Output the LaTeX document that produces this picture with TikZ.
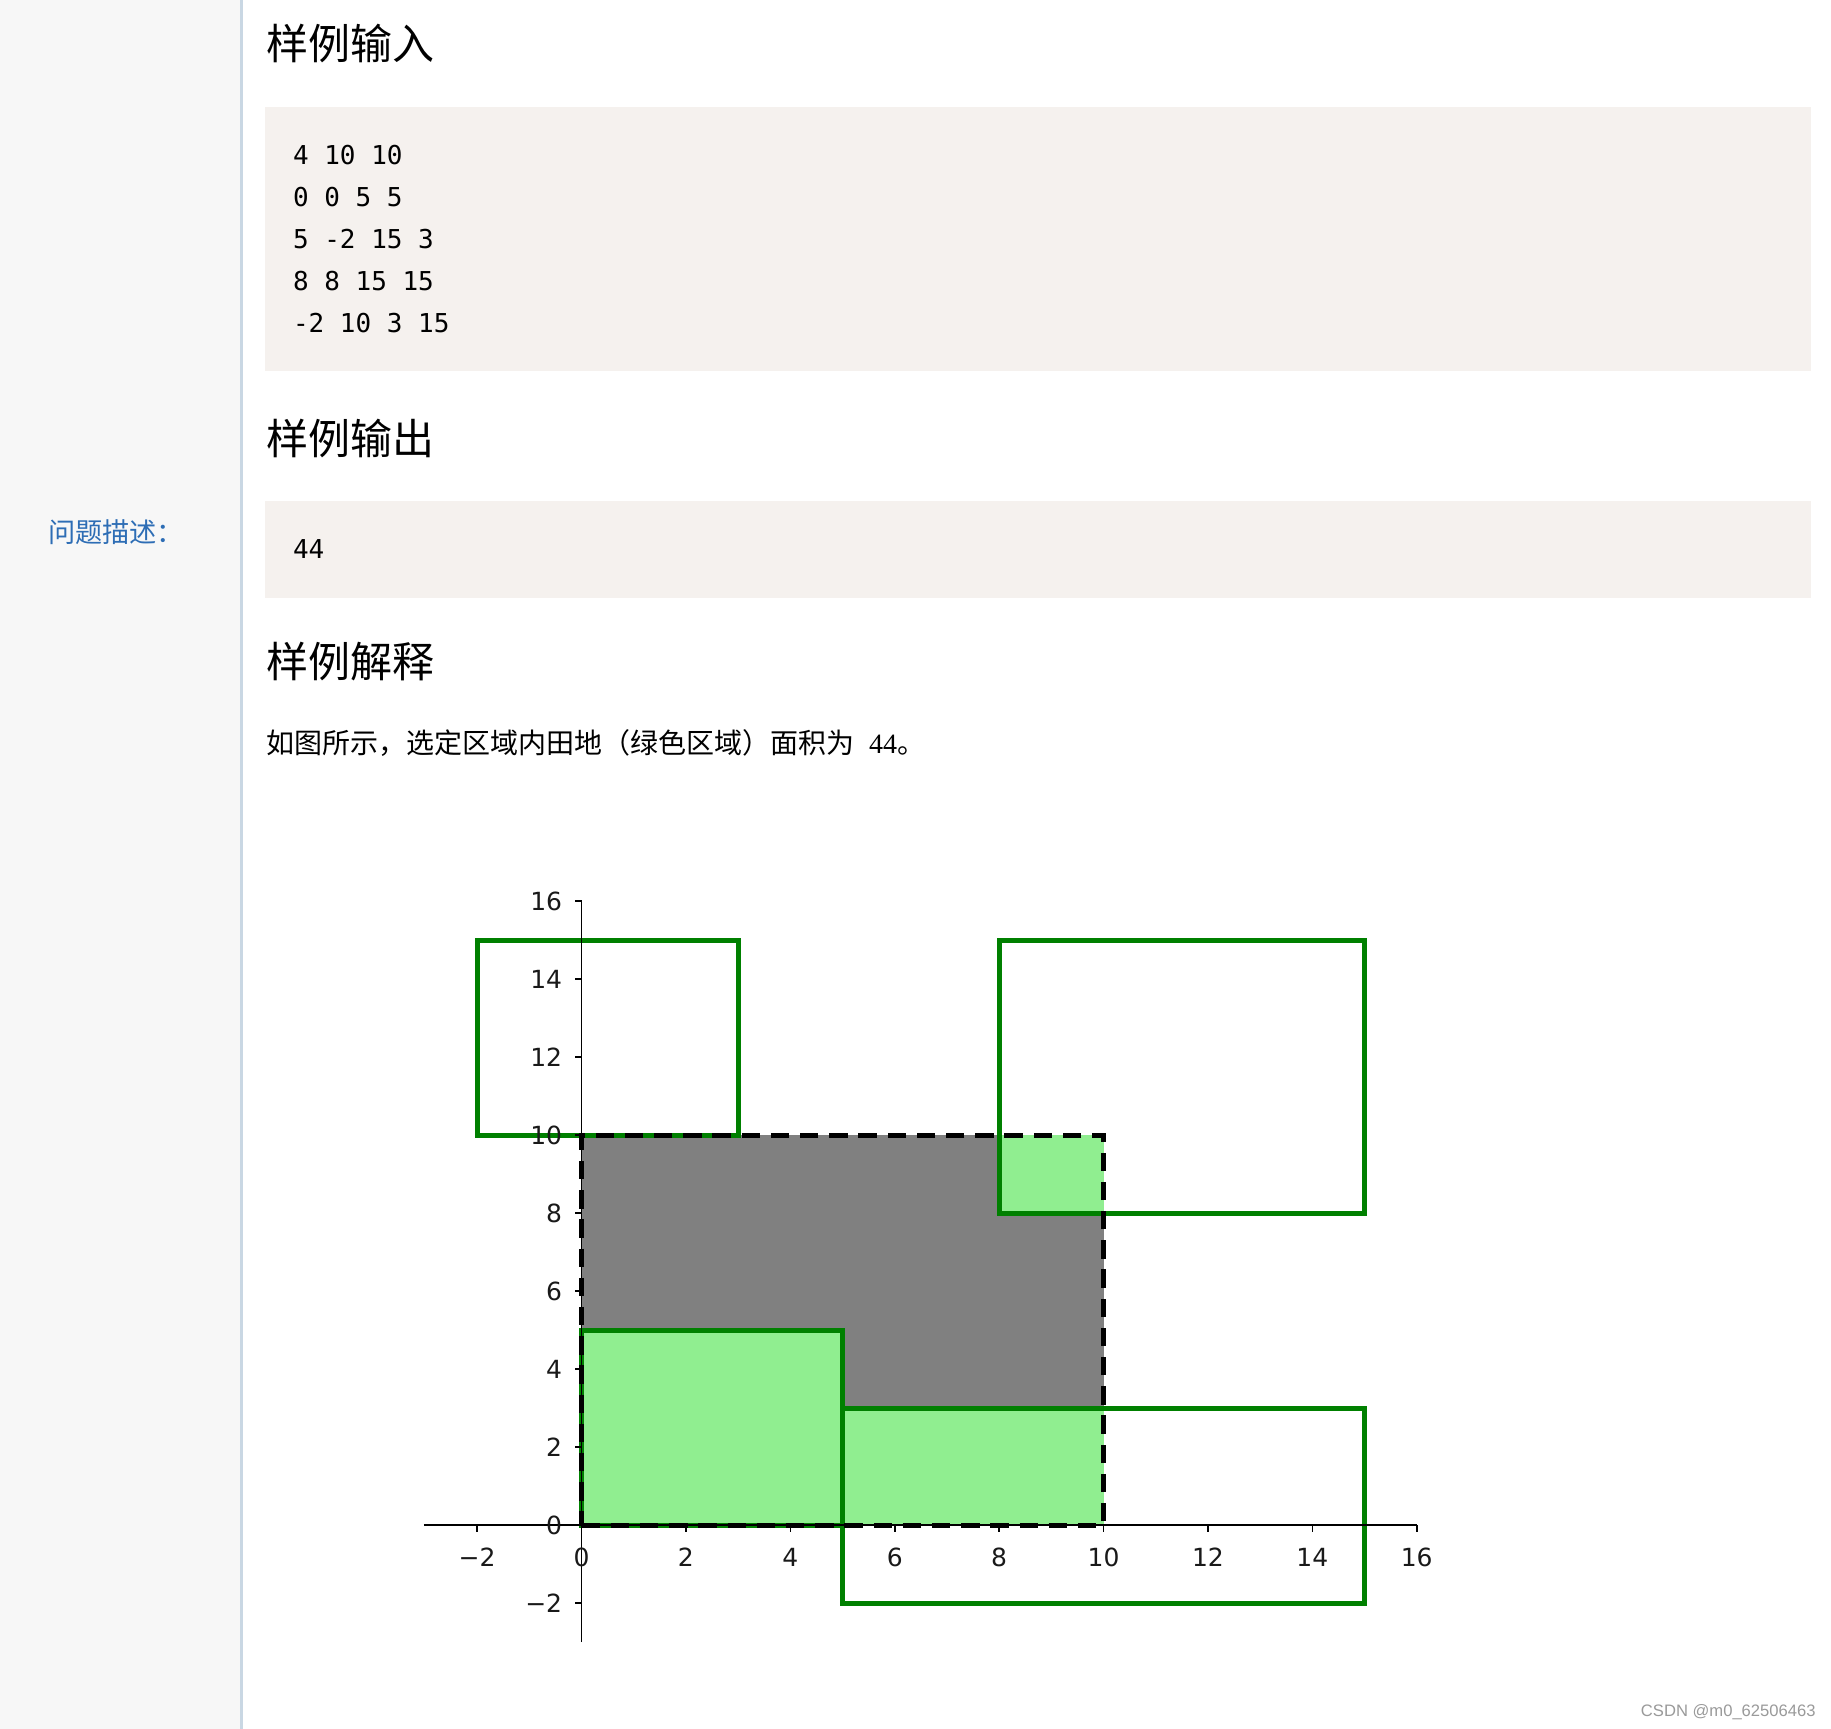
\documentclass[tikz,border=0pt]{standalone}
\usepackage{fontspec}
\setmainfont{Liberation Serif}
\newfontfamily\cjk{Noto Sans CJK SC}
\newfontfamily\codefont{DejaVu Sans Mono}
\newfontfamily\plotfont{DejaVu Sans}
\newfontfamily\wmfont{Liberation Sans}
\definecolor{panelbg}{HTML}{F7F7F7}
\definecolor{sepcol}{HTML}{C9D7E3}
\definecolor{codebg}{HTML}{F5F1EE}
\definecolor{linkblue}{HTML}{2D6DB5}
\definecolor{fieldgreen}{HTML}{008000}
\definecolor{lightfield}{HTML}{90EE90}
\definecolor{selgray}{HTML}{808080}
\definecolor{wmgray}{HTML}{9A9A9A}
\tikzset{
  txt/.style={inner sep=0pt, outer sep=0pt, anchor=west},
  heading/.style={txt, font=\cjk\fontsize{21pt}{25pt}\selectfont},
  codeline/.style={txt, font=\codefont\fontsize{13pt}{16pt}\selectfont},
  bodytext/.style={txt, font=\fontsize{14pt}{17pt}\selectfont},
  sidelabel/.style={txt, text=linkblue, font=\cjk\fontsize{13.6pt}{16pt}\selectfont},
  fieldedge/.style={draw=fieldgreen, line width=2.5pt},
  selbox/.style={draw=black, line width=2.5pt, dash pattern=on 9.2pt off 5.4pt},
  axisline/.style={draw=black, line width=0.8pt},
  ticklab/.style={inner sep=0pt, font=\plotfont\fontsize{12.5pt}{15pt}\selectfont, text=black!90}
}
\begin{document}
\begin{tikzpicture}[x=0.5pt,y=-0.5pt]
\useasboundingbox (0,0) rectangle (1831,1729);
\fill[white] (0,0) rectangle (1831,1729);
% left panel
\fill[panelbg] (0,0) rectangle (240,1729);
\draw[sepcol, line width=1.5pt] (241,0) -- (241,1729);
\node[sidelabel] (side) at (48,532) {问题描述：};
% headings
\node[heading] (h1) at (266,43) {样例输入};
\node[heading] (h2) at (266,438) {样例输出};
\node[heading] (h3) at (266,662) {样例解释};
% code boxes
\fill[codebg] (265,107) rectangle (1811,371);
\fill[codebg] (265,501) rectangle (1811,598);
\node[codeline] (c1) at (293,155) {4 10 10};
\node[codeline] (c2) at (293,197) {0 0 5 5};
\node[codeline] (c3) at (293,239) {5 -2 15 3};
\node[codeline] (c4) at (293,281) {8 8 15 15};
\node[codeline] (c5) at (293,323) {-2 10 3 15};
\node[codeline] (out) at (293,549) {44};
% explanation text
\node[bodytext] (expl) at (266,743) {{\cjk 如图所示，选定区域内田地（绿色区域）面积为}\hspace{4pt} 44{\cjk 。}};
% watermark
\node[inner sep=0pt, anchor=east, text=wmgray, font=\wmfont\fontsize{8.3pt}{10pt}\selectfont] (wm) at (1816,1712) {CSDN @m0\_62506463};
% plot
\begin{scope}[shift={(290.75pt,-762.5pt)}, x=26.1pt, y=19.5pt]
  \fill[selgray] (0,0) rectangle (10,10);
  \fill[lightfield] (0,0) rectangle (5,5);
  \fill[lightfield] (5,0) rectangle (10,3);
  \fill[lightfield] (8,8) rectangle (10,10);
  \draw[fieldedge] (0,0) -- (5,0) -- (5,5) -- (0,5) -- cycle;
  \draw[fieldedge] (5,-2) -- (15,-2) -- (15,3) -- (5,3) -- cycle;
  \draw[fieldedge] (8,8) -- (15,8) -- (15,15) -- (8,15) -- cycle;
  \draw[fieldedge] (-2,10) -- (3,10) -- (3,15) -- (-2,15) -- cycle;
  \coordinate (xa0) at (-3.02,0);
  \coordinate (xa1) at (16,0);
  \coordinate (ya0) at (0,-3);
  \coordinate (ya1) at (0,16);
  \draw[axisline] (xa0) -- (xa1);
  \draw[axisline] (ya0) -- (ya1);
  \foreach \u/\t in {-2/−2,0/0,2/2,4/4,6/6,8/8,10/10,12/12,14/14,16/16}{
    \draw[axisline] (\u,0) -- ++(0,-3.5pt);
    \node[ticklab] (xl\u) at ([yshift=-16pt]\u,0) {\t};
  }
  \foreach \v/\t in {-2/−2,0/0,2/2,4/4,6/6,8/8,10/10,12/12,14/14,16/16}{
    \draw[axisline] (0,\v) -- ++(-3.5pt,0);
    \node[ticklab, anchor=east] (yl\v) at ([xshift=-9.5pt]0,\v) {\t};
  }
  \draw[selbox] (0,0) -- (10,0) -- (10,10) -- (0,10) -- cycle;
\end{scope}
\end{tikzpicture}
\end{document}
